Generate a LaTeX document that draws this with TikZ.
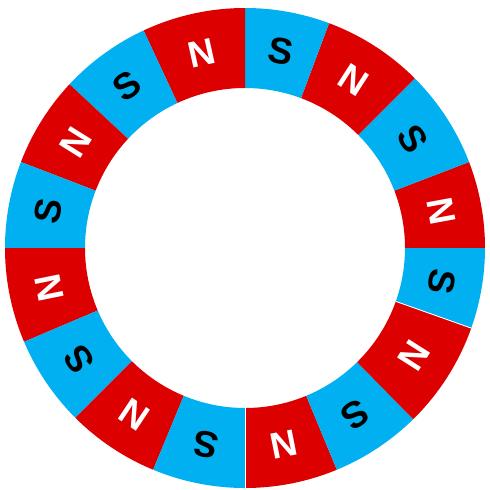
\documentclass[tikz,border=0pt]{standalone}
\usepackage{fontspec}
\setmainfont{Liberation Sans}
\usepackage{tikz}
\definecolor{magRed}{HTML}{DD0000}
\definecolor{magBlue}{HTML}{00B0F0}

\begin{document}
\begin{tikzpicture}[
    Nseg/.style={fill=magRed},
    Sseg/.style={fill=magBlue},
    pole/.style={font=\fontsize{21}{21}\selectfont\bfseries,inner sep=0pt},
    Npole/.style={pole,text=white},
    Spole/.style={pole,text=black},
    seam/.style={white,line width=0.5pt}]
  \useasboundingbox (-4.9,-4.82) rectangle (4.9,4.96);
  % ring segments: start angle / end angle / pole
  \foreach \a/\b/\p [count=\k] in {0/21/N,21/45/S,45/69.5/N,69.5/90/S,
      90/115/N,115/137/S,137/159/N,159/180/S,180/203/N,203/225/S,
      225/247.5/N,247.5/270/S,270/292.5/N,292.5/314.5/S,314.5/340.5/N,340.5/360/S}{
    \pgfmathsetmacro{\m}{(\a+\b)/2}
    \fill[\p seg] (\a:3.2) arc[start angle=\a,end angle=\b,radius=3.2]
      -- (\b:4.8) arc[start angle=\b,end angle=\a,radius=4.8] -- cycle;
    \node[\p pole,rotate=\m-90] (p\k) at (\m:4) {\p};
  }
  \draw[seam] (270:3.2) -- (270:4.8);
  \draw[seam] (340.5:3.2) -- (340.5:4.8);
\end{tikzpicture}
\end{document}
